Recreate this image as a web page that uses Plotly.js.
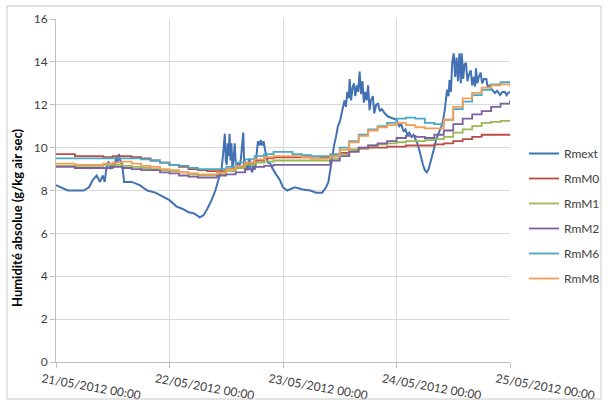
<!DOCTYPE html>
<html>
<head>
<meta charset="utf-8">
<script src="https://cdn.plot.ly/plotly-3.0.1.min.js"></script>
<style>html,body{margin:0;padding:0;background:#fff;}#chart{width:608px;height:403px;}</style>
</head>
<body>
<div id="chart"></div>
<script>
// Times in hours from 21/05/2012 00:00
const dayTicks = ['2012-05-21', '2012-05-22', '2012-05-23', '2012-05-24', '2012-05-25'];
const seriesNames = ['Rmext', 'RmM0', 'RmM1', 'RmM2', 'RmM6', 'RmM8'];
const yTitle = 'Humidité absolue (g/kg air sec)';

const rmextHours = [0,1,2.5,4,5.8,7,7.8,8.6,9.3,9.9,10.3,10.7,11.1,11.5,12.0,12.4,12.7,13.0,13.3,13.7,14.0,14.4,16,17.7,19.3,21,22.6,24,25.5,26.7,27.9,29.2,30.4,31.2,32,32.9,33.7,34.5,
  35.0,35.3,35.5,35.7,35.9,36.1,36.3,36.5,36.7,36.9,37.1,37.3,37.5,37.8,38.0,38.2,38.5,38.8,39.1,39.4,39.6,39.8,40.0,40.3,40.6,40.9,41.2,41.5,41.8,42.1,42.4,42.7,43.0,43.3,43.6,43.9,44.2,44.5,44.8,45.2,45.6,
  46.4,47.3,48,48.9,50.5,52.2,53.8,55,56.3,
  57.1,57.6,58.0,58.4,58.8,59.2,59.6,60.0,60.3,60.6,61.0,61.3,61.6,61.9,62.1,62.4,62.7,63.0,63.3,63.6,63.9,64.2,64.5,64.8,65.1,65.4,65.7,66.0,66.3,66.6,67.0,67.3,67.7,68.1,68.5,68.9,69.5,70.2,70.9,
  72.0,72.6,73.0,73.5,73.9,74.3,74.7,75.2,75.6,76.0,76.4,76.8,77.2,77.6,78.0,78.4,78.8,79.2,79.6,80.0,80.4,80.9,81.3,81.7,
  82.2,82.7,83.0,83.2,83.5,83.8,84.1,84.4,84.7,85.0,85.3,85.6,85.8,86.1,86.4,86.7,87.0,87.3,87.7,88.0,88.3,88.6,88.8,89.1,89.4,89.8,90.1,90.5,91.0,91.3,91.7,92.2,92.8,93.3,93.9,94.4,94.9,95.3,95.6,96];
const rmext = [8.25,8.15,8.0,8.0,8.0,8.15,8.5,8.7,8.4,8.7,8.4,9.1,9.35,9.0,9.3,9.1,9.55,9.3,9.7,9.3,9.25,8.4,8.4,8.25,8.0,7.9,7.7,7.55,7.25,7.15,7.0,6.93,6.75,6.85,7.15,7.55,8.0,8.6,
  9.0,9.6,10.3,10.65,9.4,9.2,10.2,9.6,10.65,9.4,10.2,9.0,9.4,10.2,9.3,9.0,9.3,9.1,9.5,10.4,10.7,9.2,8.9,9.2,8.95,9.5,9.0,8.85,9.3,9.0,9.6,10.3,10.1,10.35,10.1,10.3,9.9,9.5,9.3,9.3,9.1,
  8.8,8.5,8.15,8.0,8.15,8.05,8.0,7.9,7.9,
  8.15,8.4,9.0,9.5,10.1,10.5,11.0,11.2,11.5,11.9,12.2,11.9,12.6,12.3,13.2,12.2,12.8,13.0,12.4,12.9,12.6,13.55,12.5,13.1,12.1,12.6,12.2,12.9,11.75,12.2,12.4,11.6,12.0,12.05,11.7,11.8,11.6,11.45,11.4,
  11.3,11.0,11.1,10.75,10.85,10.6,10.7,10.5,10.6,10.4,10.2,9.9,9.5,9.2,8.95,8.85,9.0,9.3,9.6,10.0,10.4,10.65,10.9,11.1,
  11.75,12.7,12.4,13.15,12.6,14.0,14.4,13.3,14.2,13.1,14.4,13.0,14.4,13.2,13.9,13.95,13.1,13.4,13.6,12.9,13.3,12.85,13.7,13.0,13.3,13.5,13.0,13.2,13.2,12.8,12.9,12.7,12.55,12.65,12.45,12.6,12.6,12.45,12.55,12.6];

const mHours = [0,2,4,6,8,10,12,14,16,18,20,22,24,26,28,30,32,34,36,38,40,42,44,46,48,50,52,54,56,58,60,62,64,66,68,70,72,74,76,78,80,82,84,86,88,90,92,94,96];
const rmM0 = [9.7,9.7,9.6,9.6,9.6,9.55,9.6,9.6,9.55,9.5,9.4,9.3,9.2,9.1,9.0,8.95,8.9,8.9,9.0,9.15,9.3,9.4,9.5,9.55,9.55,9.55,9.55,9.5,9.55,9.6,9.75,9.9,9.95,10.0,10.0,10.05,10.05,10.1,10.1,10.1,10.15,10.2,10.3,10.4,10.5,10.6,10.6,10.6,10.6];
const rmM1 = [9.15,9.15,9.15,9.15,9.15,9.2,9.2,9.15,9.1,9.05,9.0,8.95,8.9,8.85,8.75,8.7,8.7,8.75,8.9,9.05,9.2,9.3,9.35,9.4,9.4,9.4,9.4,9.4,9.4,9.5,9.7,9.9,10.0,10.1,10.15,10.2,10.25,10.3,10.3,10.35,10.4,10.5,10.7,10.85,11.0,11.15,11.2,11.25,11.3];
const rmM2 = [9.1,9.1,9.05,9.05,9.05,9.05,9.1,9.05,9.0,8.95,8.95,8.85,8.8,8.7,8.65,8.6,8.6,8.7,8.75,8.85,9.0,9.1,9.15,9.2,9.2,9.2,9.2,9.2,9.2,9.4,9.6,9.8,10.0,10.1,10.2,10.3,10.45,10.55,10.5,10.45,10.6,10.8,11.1,11.35,11.55,11.7,11.9,12.05,12.2];
const rmM6 = [9.5,9.5,9.5,9.5,9.5,9.5,9.5,9.5,9.5,9.45,9.4,9.3,9.2,9.15,9.05,9.0,9.0,9.0,9.1,9.3,9.45,9.6,9.7,9.8,9.8,9.7,9.65,9.6,9.6,9.7,10.0,10.3,10.6,10.85,11.0,11.15,11.35,11.4,11.35,11.15,11.1,11.3,11.8,12.15,12.45,12.7,12.95,13.05,13.1];
const rmM8 = [9.25,9.25,9.2,9.2,9.2,9.25,9.3,9.35,9.25,9.15,9.1,9.0,8.95,8.85,8.8,8.75,8.75,8.85,9.0,9.15,9.3,9.45,9.55,9.6,9.6,9.6,9.55,9.5,9.5,9.6,9.9,10.25,10.55,10.8,10.95,11.05,11.15,11.05,10.95,10.9,10.9,11.3,11.9,12.3,12.55,12.8,12.9,12.95,12.85];

const colors = ['#4372B4', '#BE4B48', '#98B954', '#7D60A0', '#46AAC5', '#F59D56'];

function toDate(h) {
  const base = Date.UTC(2012, 4, 21);
  return new Date(base + h * 3600000).toISOString().slice(0, 19).replace('T', ' ');
}

const ySets = [rmext, rmM0, rmM1, rmM2, rmM6, rmM8];
const traces = ySets.map((ys, i) => {
  const hrs = i === 0 ? rmextHours : mHours;
  return {
    type: 'scatter', mode: 'lines', name: seriesNames[i], legendgroup: 'g' + i,
    x: hrs.map(toDate), y: ys,
    line: {color: colors[i], width: i === 0 ? 2 : 1.8, shape: i === 0 ? 'linear' : 'hv'}
  };
});

const fontFam = 'Lato, "Open Sans", "Liberation Sans", sans-serif';
const layout = {
  width: 608, height: 403,
  margin: {l: 56, r: 98, t: 19, b: 41},
  paper_bgcolor: '#ffffff', plot_bgcolor: '#ffffff',
  font: {family: fontFam, color: '#404040', size: 11},
  showlegend: true,
  legend: {xref: 'container', yref: 'container', x: 524 / 608, y: 1 - 216 / 403,
           xanchor: 'left', yanchor: 'middle', tracegroupgap: 6,
           font: {size: 12, color: '#404040', family: fontFam}, bgcolor: 'rgba(0,0,0,0)'},
  xaxis: {
    type: 'date', range: [dayTicks[0], dayTicks[4]], tickvals: dayTicks,
    tickformat: '%d/%m/%Y %H:%M', tickangle: 10, ticklabelshift: -14,
    showgrid: true, gridcolor: '#d9d9d9', gridwidth: 1,
    ticks: 'outside', ticklen: 5, tickcolor: '#bfbfbf',
    showline: true, linecolor: '#bfbfbf', linewidth: 1,
    tickfont: {size: 12, color: '#404040', family: fontFam}, zeroline: false
  },
  yaxis: {
    range: [0, 16], dtick: 2, tick0: 0,
    showgrid: true, gridcolor: '#d9d9d9', gridwidth: 1,
    ticks: 'outside', ticklen: 5, tickcolor: '#bfbfbf',
    showline: true, linecolor: '#bfbfbf', linewidth: 1, zeroline: false,
    tickfont: {size: 12, color: '#404040', family: fontFam}
  },
  annotations: [{
    text: yTitle, xref: 'paper', yref: 'paper', x: (17 - 56) / 454, y: (362 - 218) / 343,
    textangle: -90, showarrow: false, xanchor: 'center', yanchor: 'middle',
    font: {size: 13, color: '#000000', family: fontFam, weight: 'bold'}
  }],
  shapes: [{type: 'rect', xref: 'paper', yref: 'paper',
            x0: (7 - 56) / 454, x1: (601 - 56) / 454, y0: -(399 - 362) / 343, y1: 1 + (19 - 6) / 343,
            line: {color: '#c8c8c8', width: 1}}]
};

Plotly.newPlot('chart', traces, layout, {displayModeBar: false, staticPlot: true});
</script>
</body>
</html>
